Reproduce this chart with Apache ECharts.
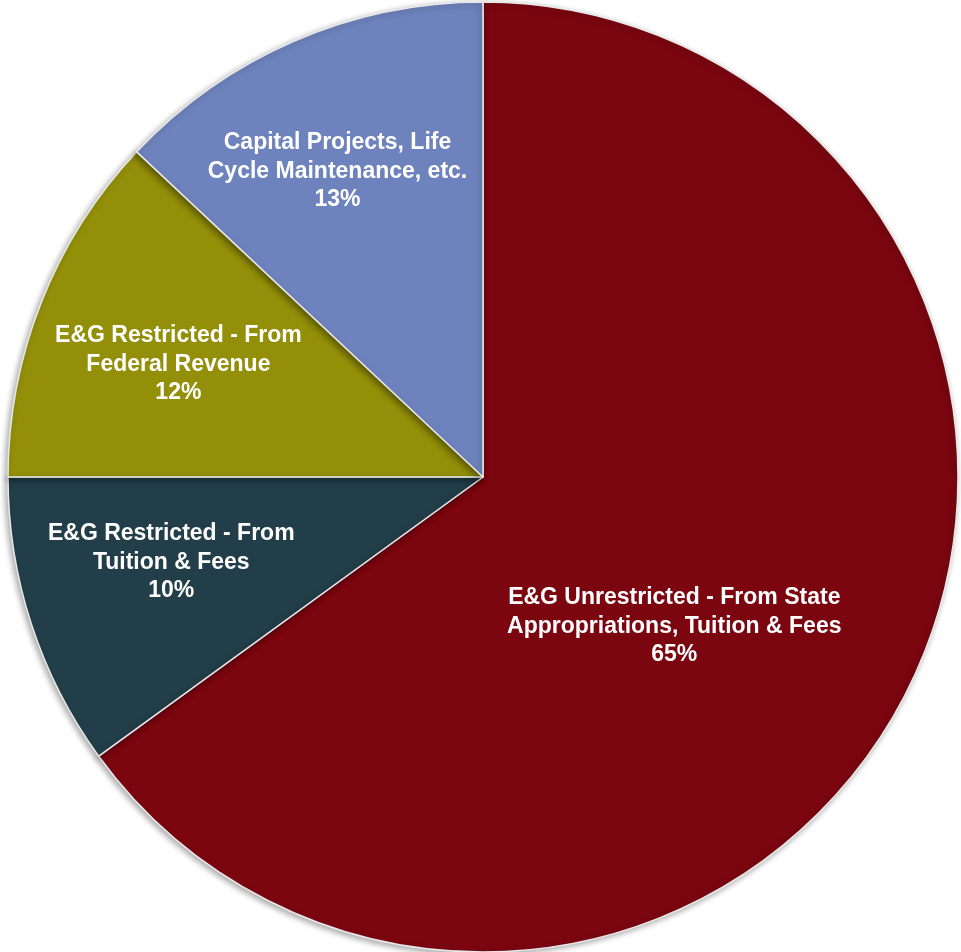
<!DOCTYPE html>
<html><head><meta charset="utf-8">
<script src="https://cdn.jsdelivr.net/npm/echarts@6/dist/echarts.min.js"></script>
<style>html,body{margin:0;padding:0;background:#fff}#c{width:961px;height:952px}</style>
</head><body><div id="c"></div>
<script>
const categories = [
  'E&G Unrestricted - From State\nAppropriations, Tuition & Fees',
  'E&G Restricted - From\nTuition & Fees',
  'E&G Restricted - From\nFederal Revenue',
  'Capital Projects, Life\nCycle Maintenance, etc.'
];
const values = [65, 10, 12, 13];
const colors = ['#7b0610', '#223e49', '#938f09', '#6e83bd'];
const labelShift = [[-23, 40], [-83, 11], [-81, -24], [-50, -85]];

const chart = echarts.init(document.getElementById('c'));
chart.setOption({
  animation: false,
  series: [{
    type: 'pie',
    center: [483, 477],
    radius: 475,
    startAngle: 90,
    clockwise: true,
    data: categories.map((n, i) => ({
      name: n, value: values[i],
      itemStyle: { color: colors[i] }
    })),
    itemStyle: {
      borderColor: '#e8e8e8', borderWidth: 1.5,
      shadowColor: 'rgba(0,0,0,0.35)', shadowBlur: 6, shadowOffsetX: -2, shadowOffsetY: 2
    },
    label: {
      show: true, position: 'inside',
      color: '#ffffff', fontFamily: '"Liberation Sans", Arial, sans-serif',
      fontWeight: 'bold', fontSize: 23, lineHeight: 28.5, align: 'center',
      formatter: p => p.name + '\n' + Math.round(p.percent) + '%'
    },
    labelLayout: p => ({ dx: labelShift[p.dataIndex][0], dy: labelShift[p.dataIndex][1] }),
    emphasis: { disabled: true }
  }]
});
</script></body></html>
